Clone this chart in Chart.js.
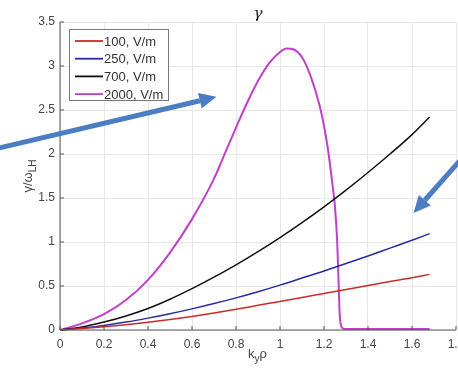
<!DOCTYPE html>
<html>
<head>
<meta charset="utf-8">
<script src="https://cdn.jsdelivr.net/npm/chart.js@4.4.0/dist/chart.umd.min.js"></script>
<style>
  body { margin: 0; background: #fff; }
  #wrap { width: 458px; height: 372px; }
</style>
</head>
<body>
<div id="wrap"><canvas id="c" width="458" height="372"></canvas></div>
<script>
// values
var kyRho    = [0, 0.1, 0.2, 0.3, 0.4, 0.5, 0.6, 0.7, 0.8, 0.9, 1.0, 1.1, 1.2, 1.3, 1.4, 1.5, 1.6, 1.68];
var red100   = [0, 0.017, 0.037, 0.06, 0.087, 0.118, 0.153, 0.192, 0.235, 0.28, 0.325, 0.37, 0.415, 0.46, 0.505, 0.55, 0.595, 0.632];
var blue250  = [0, 0.022, 0.052, 0.09, 0.135, 0.185, 0.24, 0.30, 0.365, 0.435, 0.51, 0.59, 0.67, 0.755, 0.84, 0.93, 1.02, 1.095];
var black700 = [0, 0.035, 0.09, 0.16, 0.245, 0.35, 0.47, 0.60, 0.74, 0.89, 1.05, 1.22, 1.40, 1.59, 1.79, 2.00, 2.22, 2.42];

var magX    = [0, 0.1, 0.2, 0.3, 0.4, 0.5, 0.6, 0.7, 0.75, 0.8, 0.85, 0.9, 0.95, 1.0, 1.03, 1.06, 1.1, 1.14, 1.18, 1.2, 1.22, 1.24, 1.25, 1.26, 1.265, 1.27, 1.275, 1.285, 1.3, 1.4, 1.5, 1.6, 1.68];
var mag2000 = [0, 0.075, 0.18, 0.34, 0.57, 0.88, 1.26, 1.72, 2.01, 2.30, 2.58, 2.83, 3.03, 3.16, 3.20, 3.19, 3.10, 2.88, 2.55, 2.32, 2.02, 1.62, 1.4, 1.0, 0.65, 0.25, 0.08, 0.02, 0.01, 0.01, 0.01, 0.01, 0.01];

var seriesNames = ['100, V/m', '250, V/m', '700, V/m', '2000, V/m'];
var xTicks = [0, 0.2, 0.4, 0.6, 0.8, 1, 1.2, 1.4, 1.6, 1.8];
var yTicks = [0, 0.5, 1, 1.5, 2, 2.5, 3, 3.5];

// blue annotation arrows, in data units [x0, y0, x1, y1]
var arrows = [[-0.275, 2.07, 0.711, 2.65], [1.816, 1.92, 1.607, 1.33]];

function pts(xs, ys) {
  return xs.map(function(x, i) { return {x: x, y: ys[i]}; });
}

var colors = ['#cc2a2a', '#2a2aa0', '#111111', '#c040c8'];

var extras = {
  id: 'extras',
  afterDraw: function(chart) {
    var ctx = chart.ctx, a = chart.chartArea;
    var xs = chart.scales.x, ys = chart.scales.y;
    ctx.save();
    // axes box
    ctx.strokeStyle = '#555';
    ctx.lineWidth = 1;
    ctx.beginPath();
    ctx.moveTo(a.left, a.top); ctx.lineTo(a.left, a.bottom); ctx.lineTo(a.right, a.bottom);
    ctx.stroke();
    // inward ticks
    ctx.beginPath();
    xTicks.forEach(function(v) { var p = xs.getPixelForValue(v); ctx.moveTo(p, a.bottom); ctx.lineTo(p, a.bottom - 4); });
    yTicks.forEach(function(v) { var p = ys.getPixelForValue(v); ctx.moveTo(a.left, p); ctx.lineTo(a.left + 4, p); });
    ctx.stroke();

    // title
    ctx.fillStyle = '#222';
    ctx.textAlign = 'center';
    ctx.textBaseline = 'middle';
    ctx.font = 'italic 15px "DejaVu Serif"';
    ctx.fillText('\u03b3', (a.left + a.right) / 2, 14);

    // x label k_y rho
    ctx.fillStyle = '#444';
    ctx.font = '13px "Liberation Sans"';
    ctx.textAlign = 'left';
    var cx = (a.left + a.right) / 2 - 10;
    ctx.fillText('k', cx, 354);
    var kw = ctx.measureText('k').width;
    ctx.font = '10px "Liberation Sans"';
    ctx.fillText('y', cx + kw, 359);
    var yw = ctx.measureText('y').width;
    ctx.font = '13px "Liberation Sans"';
    ctx.fillText('\u03c1', cx + kw + yw, 354);

    // y label gamma/omega_LH
    ctx.translate(28, 176);
    ctx.rotate(-Math.PI / 2);
    ctx.textAlign = 'left';
    ctx.font = '13px "Liberation Sans"';
    var t1 = '\u03b3/\u03c9';
    var w1 = ctx.measureText(t1).width;
    ctx.font = '10px "Liberation Sans"';
    var w2 = ctx.measureText('LH').width;
    var sx = -(w1 + w2) / 2;
    ctx.font = '13px "Liberation Sans"';
    ctx.fillText(t1, sx, 0);
    ctx.font = '10px "Liberation Sans"';
    ctx.fillText('LH', sx + w1, 5);
    ctx.setTransform(1, 0, 0, 1, 0, 0);

    // legend
    ctx.fillStyle = '#fff';
    ctx.strokeStyle = '#777';
    ctx.fillRect(69.5, 29.5, 99, 71);
    ctx.strokeRect(69.5, 29.5, 99, 71);
    ctx.font = '13px "Liberation Sans"';
    ctx.textAlign = 'left';
    ctx.textBaseline = 'middle';
    chart.data.datasets.forEach(function(ds, i) {
      var yy = 41 + i * 17.7;
      ctx.strokeStyle = ds.borderColor;
      ctx.lineWidth = 1.8;
      ctx.beginPath(); ctx.moveTo(75, yy); ctx.lineTo(103, yy); ctx.stroke();
      ctx.fillStyle = '#333';
      ctx.fillText(ds.label, 104, yy + 1);
    });

    // annotation arrows
    ctx.strokeStyle = '#4a7dc2';
    ctx.fillStyle = '#4a7dc2';
    arrows.forEach(function(ar) {
      var x0 = xs.getPixelForValue(ar[0]), y0 = ys.getPixelForValue(ar[1]);
      var x1 = xs.getPixelForValue(ar[2]), y1 = ys.getPixelForValue(ar[3]);
      var ang = Math.atan2(y1 - y0, x1 - x0);
      var hl = 17, hw = 8;
      var bx = x1 - hl * Math.cos(ang), by = y1 - hl * Math.sin(ang);
      ctx.lineWidth = 5;
      ctx.beginPath(); ctx.moveTo(x0, y0); ctx.lineTo(bx, by); ctx.stroke();
      ctx.beginPath();
      ctx.moveTo(x1, y1);
      ctx.lineTo(bx + hw * Math.sin(ang), by - hw * Math.cos(ang));
      ctx.lineTo(bx - hw * Math.sin(ang), by + hw * Math.cos(ang));
      ctx.closePath(); ctx.fill();
    });
    ctx.restore();
  }
};

var lineOpts = { pointRadius: 0, fill: false, cubicInterpolationMode: 'monotone', clip: false };

new Chart(document.getElementById('c'), {
  type: 'line',
  data: {
    datasets: [
      Object.assign({ label: seriesNames[0], data: pts(kyRho, red100), borderColor: colors[0], borderWidth: 1.5 }, lineOpts),
      Object.assign({ label: seriesNames[1], data: pts(kyRho, blue250), borderColor: colors[1], borderWidth: 1.5 }, lineOpts),
      Object.assign({ label: seriesNames[2], data: pts(kyRho, black700), borderColor: colors[2], borderWidth: 1.5 }, lineOpts),
      Object.assign({ label: seriesNames[3], data: pts(magX, mag2000), borderColor: colors[3], borderWidth: 2 }, lineOpts)
    ]
  },
  options: {
    responsive: false,
    animation: false,
    events: [],
    layout: { padding: { left: 0, top: 22, right: 2, bottom: 0 } },
    plugins: { legend: { display: false }, tooltip: { enabled: false } },
    scales: {
      x: {
        type: 'linear', min: 0, max: 1.8,
        afterBuildTicks: function(s) { s.ticks = xTicks.map(function(v) { return {value: v}; }); },
        afterFit: function(s) { s.height = 42; s.paddingLeft = 0; s.paddingRight = 0; },
        grid: { color: '#e8e8e8', drawTicks: false },
        border: { display: false },
        ticks: { padding: 7, color: '#444', font: { family: 'Liberation Sans', size: 12 }, maxRotation: 0, autoSkip: false,
                 callback: function(v) { return String(v); } }
      },
      y: {
        type: 'linear', min: 0, max: 3.5,
        afterBuildTicks: function(s) { s.ticks = yTicks.map(function(v) { return {value: v}; }); },
        afterFit: function(s) { s.width = 60; s.paddingTop = 0; s.paddingBottom = 0; },
        grid: { color: '#e8e8e8', drawTicks: false },
        border: { display: false },
        ticks: { padding: 5, color: '#444', font: { family: 'Liberation Sans', size: 12 },
                 callback: function(v) { return String(v); } }
      }
    }
  },
  plugins: [extras]
});
</script>
</body>
</html>
